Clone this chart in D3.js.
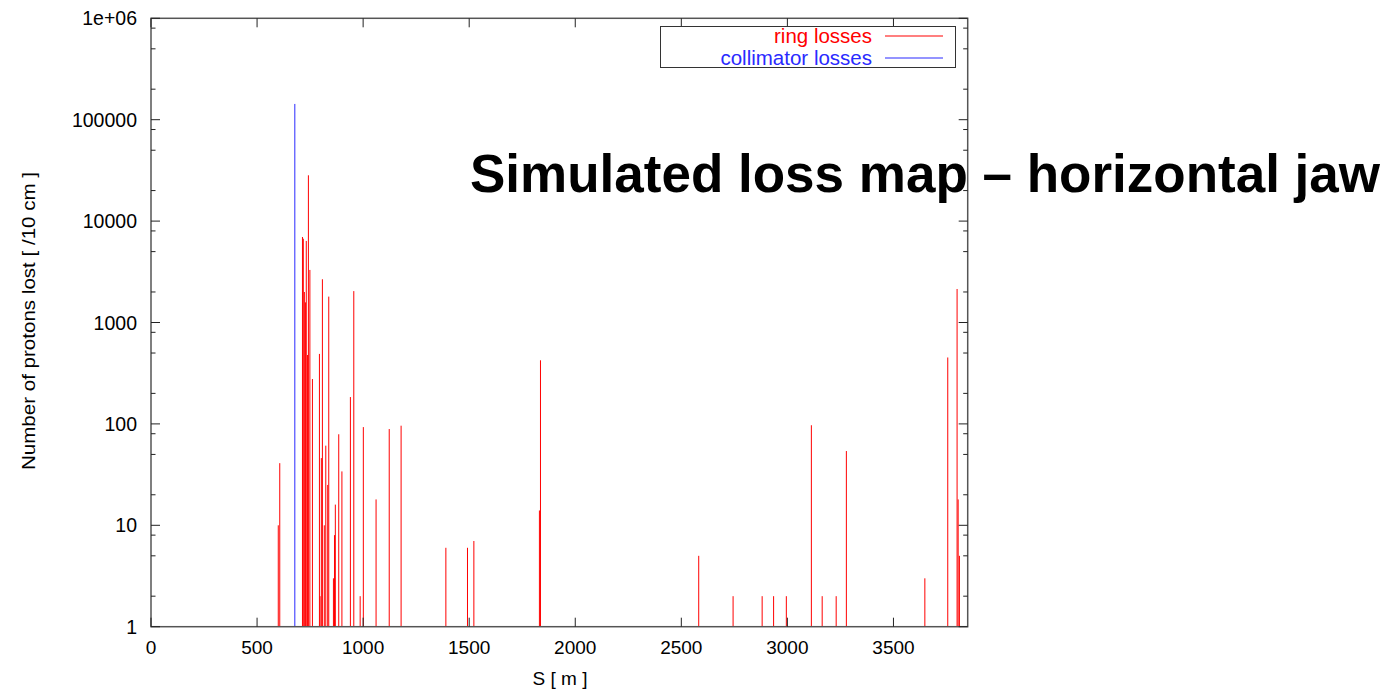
<!DOCTYPE html>
<html>
<head>
<meta charset="utf-8">
<script src="https://cdn.jsdelivr.net/npm/d3@7"></script>
<style>
  html, body { margin: 0; padding: 0; background: #fff; }
  svg { display: block; font-family: "Liberation Sans", Arial, Helvetica, sans-serif; }
</style>
</head>
<body>
<svg id="chart" width="1391" height="692"></svg>
<script>
// Loss positions along the ring [m] and protons lost per 10 cm bin
const ringS = [600, 607, 714, 718, 723, 728, 732, 738, 742, 749, 761, 794, 797, 803, 808,
  817, 824, 833, 838, 860, 865, 869, 885, 900, 940, 956, 986, 1001, 1061, 1123, 1179,
  1390, 1492, 1522, 1831, 1836, 2582, 2744, 2881, 2935, 2995, 3113, 3164, 3230, 3278,
  3648, 3756, 3800, 3805, 3811];
const ringN = [10, 41, 6970, 6700, 2000, 1580, 6370, 478, 28300, 3300, 277, 490, 2, 46, 2670,
  10, 61, 25, 1800, 3, 8, 16, 79, 34, 184, 2040, 2, 93, 18, 89, 96,
  6, 6, 7, 14, 424, 5, 2, 2, 2, 2, 97, 2, 2, 54,
  3, 452, 2140, 18, 5];
const collS = [678];
const collN = [143000];

const xTickValues = [0, 500, 1000, 1500, 2000, 2500, 3000, 3500];
const yTickValues = [1, 10, 100, 1000, 10000, 100000, 1000000];
const yTickLabels = ["1", "10", "100", "1000", "10000", "100000", "1e+06"];
const yMinorMantissas = [2, 5, 8];

const seriesNames = ["ring losses", "collimator losses"];
const seriesColors = ["#ff0000", "#2a2aff"];

const titleText = "Simulated loss map \u2013 horizontal jaw";
const xLabel = "S [ m ]";
const yLabel = "Number of protons lost [ /10 cm ]";

const svg = d3.select("#chart");
const plotL = 151, plotR = 967.7, plotT = 18.3, plotB = 626.7;

const x = d3.scaleLinear().domain([0, 3850]).range([plotL, plotR]);
const y = d3.scaleLog().domain([1, 1e6]).range([plotB, plotT]);

const ring = ringS.map((s, i) => ({ s, n: ringN[i] }));
const coll = collS.map((s, i) => ({ s, n: collN[i] }));

// impulses
const gBars = svg.append("g");
gBars.selectAll("line.ring").data(ring).join("line")
  .attr("class", "ring")
  .attr("x1", d => x(d.s)).attr("x2", d => x(d.s))
  .attr("y1", y(1)).attr("y2", d => y(d.n))
  .attr("stroke", seriesColors[0]).attr("stroke-width", 1);
gBars.selectAll("line.coll").data(coll).join("line")
  .attr("class", "coll")
  .attr("x1", d => x(d.s)).attr("x2", d => x(d.s))
  .attr("y1", y(1)).attr("y2", d => y(d.n))
  .attr("stroke", seriesColors[1]).attr("stroke-width", 1);

// frame
svg.append("rect")
  .attr("x", plotL).attr("y", plotT)
  .attr("width", plotR - plotL).attr("height", plotB - plotT)
  .attr("fill", "none").attr("stroke", "#555").attr("stroke-width", 1.5);

const majorLen = 9, minorLen = 4.5;
const gTicks = svg.append("g").attr("stroke", "#222").attr("stroke-width", 1);

// x ticks (bottom and mirrored top)
xTickValues.forEach(v => {
  gTicks.append("line").attr("x1", x(v)).attr("x2", x(v)).attr("y1", plotB).attr("y2", plotB - majorLen);
  gTicks.append("line").attr("x1", x(v)).attr("x2", x(v)).attr("y1", plotT).attr("y2", plotT + majorLen);
});

// y ticks (left and mirrored right)
yTickValues.forEach(v => {
  gTicks.append("line").attr("x1", plotL).attr("x2", plotL + majorLen).attr("y1", y(v)).attr("y2", y(v));
  gTicks.append("line").attr("x1", plotR).attr("x2", plotR - majorLen).attr("y1", y(v)).attr("y2", y(v));
});
yTickValues.slice(0, -1).forEach(v => {
  yMinorMantissas.forEach(m => {
    const yy = y(v * m);
    gTicks.append("line").attr("x1", plotL).attr("x2", plotL + minorLen).attr("y1", yy).attr("y2", yy);
    gTicks.append("line").attr("x1", plotR).attr("x2", plotR - minorLen).attr("y1", yy).attr("y2", yy);
  });
});

// tick labels
const fs = 19;
svg.append("g").selectAll("text").data(xTickValues).join("text")
  .attr("x", d => x(d)).attr("y", 654)
  .attr("text-anchor", "middle").attr("font-size", fs).attr("fill", "#000")
  .text(d => String(d));
svg.append("g").selectAll("text").data(yTickValues).join("text")
  .attr("x", 137).attr("y", d => y(d) + 7)
  .attr("text-anchor", "end").attr("font-size", 19.5).attr("fill", "#000")
  .text((d, i) => yTickLabels[i]);

// axis titles
svg.append("text")
  .attr("x", 560).attr("y", 685)
  .attr("text-anchor", "middle").attr("font-size", fs).attr("fill", "#000")
  .text(xLabel);
svg.append("text")
  .attr("transform", "translate(35,321) rotate(-90)")
  .attr("text-anchor", "middle").attr("font-size", fs).attr("fill", "#000")
  .attr("textLength", 298).attr("lengthAdjust", "spacingAndGlyphs")
  .text(yLabel);

// legend
const lg = svg.append("g");
lg.append("rect")
  .attr("x", 660.5).attr("y", 26.5).attr("width", 295).attr("height", 41)
  .attr("fill", "#fff").attr("stroke", "#333").attr("stroke-width", 1);
seriesNames.forEach((name, i) => {
  const ly = 36 + i * 22;
  lg.append("text")
    .attr("x", 872).attr("y", ly + 7)
    .attr("text-anchor", "end").attr("font-size", 20.5).attr("fill", seriesColors[i])
    .text(name);
  lg.append("line")
    .attr("x1", 885).attr("x2", 943).attr("y1", ly).attr("y2", ly)
    .attr("stroke", seriesColors[i]).attr("stroke-width", 1.2);
});

// title
svg.append("text")
  .attr("x", 470).attr("y", 192)
  .attr("font-size", 53).attr("font-weight", "bold").attr("fill", "#000")
  .text(titleText);
</script>
</body>
</html>
